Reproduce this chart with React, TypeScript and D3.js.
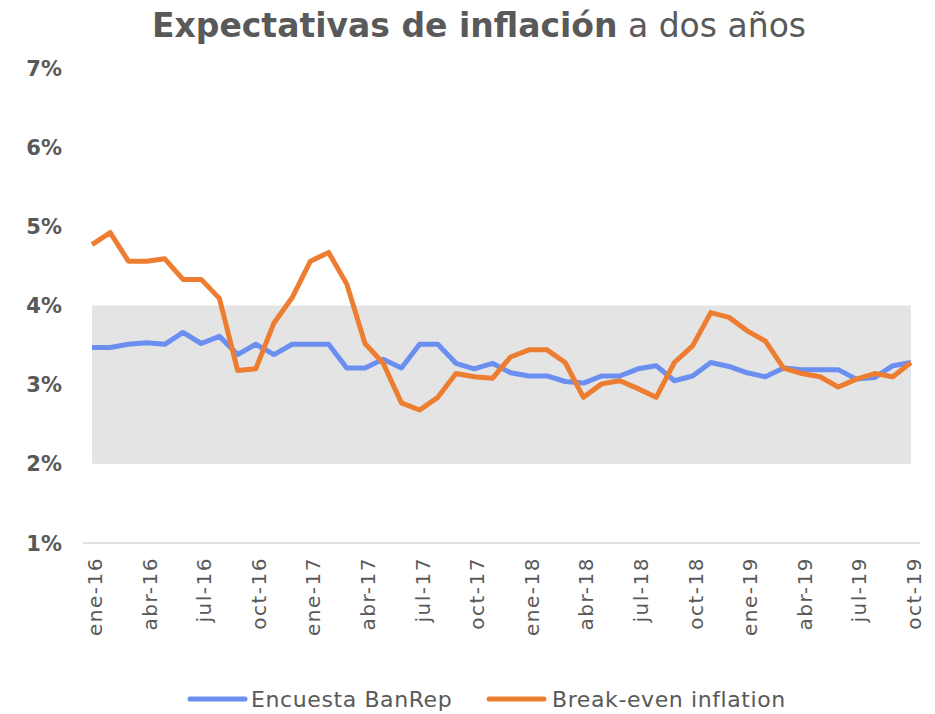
import React from 'react'
import * as d3 from 'd3'

const years = ['16', '17', '18', '19']
const months = ['ene', 'feb', 'mar', 'abr', 'may', 'jun', 'jul', 'ago', 'sep', 'oct', 'nov', 'dic']
const categories: string[] = years.flatMap(y => months.map(m => `${m}-${y}`)).slice(0, 46)

const encuesta = [
  3.47, 3.47, 3.51, 3.53, 3.51, 3.66, 3.52, 3.61, 3.38, 3.51, 3.38, 3.51,
  3.51, 3.51, 3.21, 3.21, 3.32, 3.21, 3.51, 3.51, 3.27, 3.20, 3.27, 3.15,
  3.11, 3.11, 3.04, 3.02, 3.11, 3.11, 3.20, 3.24, 3.05, 3.11, 3.28, 3.23,
  3.15, 3.10, 3.21, 3.19, 3.19, 3.19, 3.07, 3.09, 3.24, 3.28,
]
const breakeven = [
  4.77, 4.92, 4.56, 4.56, 4.59, 4.33, 4.33, 4.09, 3.18, 3.20, 3.78, 4.10,
  4.56, 4.67, 4.27, 3.52, 3.27, 2.77, 2.68, 2.84, 3.14, 3.10, 3.08, 3.35,
  3.44, 3.44, 3.28, 2.84, 3.01, 3.05, 2.95, 2.84, 3.28, 3.49, 3.91, 3.85,
  3.68, 3.55, 3.21, 3.14, 3.10, 2.97, 3.07, 3.14, 3.10, 3.28,
]
const yTicks = [1, 2, 3, 4, 5, 6, 7]
const band = [2, 4]

const W = 935
const H = 714
const font = '"DejaVu Sans", sans-serif'
const grey = '#595959'
const blue = '#6b8ff0'
const orange = '#ed7d31'

export default function App() {
  const x = d3.scalePoint<string>().domain(categories).range([92, 911])
  const y = d3.scaleLinear().domain([1, 7]).range([543, 68])

  const line = d3.line<number>()
    .x((d, i) => x(categories[i]) as number)
    .y(d => y(d))

  const step = x.step()
  const labelCats = categories.filter((c, i) => i % 3 === 0)

  return (
    <div style={{ position: 'absolute', left: 0, top: 0 }}>
      <svg width={W} height={H} style={{ display: 'block', background: '#fff' }} fontFamily={font}>
        <text x={479} y={37} textAnchor="middle" fontSize={33} fill={grey}>
          <tspan fontWeight="bold">Expectativas de inflación</tspan>
          <tspan> a dos años</tspan>
        </text>

        <rect
          x={x(categories[0])}
          width={(x(categories[categories.length - 1]) as number) - (x(categories[0]) as number)}
          y={y(band[1])}
          height={y(band[0]) - y(band[1])}
          fill="#e4e4e4"
        />

        {yTicks.map(t => (
          <text key={t} x={62} y={y(t)} dy="0.36em" textAnchor="end" fontSize={21}
            fontWeight="bold" fill={grey}>{t}%</text>
        ))}

        <line x1={92 - step / 2} x2={911 + step / 2} y1={y(1)} y2={y(1)} stroke="#d9d9d9" strokeWidth={1.5} />

        {labelCats.map(c => (
          <text key={c} transform={`translate(${(x(c) as number) + 10},${y(1) + 14}) rotate(-90)`}
            textAnchor="end" fontSize={20} letterSpacing={1.5} fill={grey}>{c}</text>
        ))}

        <path d={line(encuesta) || ''} fill="none" stroke={blue} strokeWidth={5} strokeLinejoin="round" />
        <path d={line(breakeven) || ''} fill="none" stroke={orange} strokeWidth={5} strokeLinejoin="round" />

        <g transform="translate(190,699)">
          <line x1={0} x2={55} y1={0} y2={0} stroke={blue} strokeWidth={5} strokeLinecap="round" />
          <text x={61} y={0} dy="0.36em" fontSize={22} letterSpacing={0.6} fill={grey}>Encuesta BanRep</text>
        </g>
        <g transform="translate(489,699)">
          <line x1={0} x2={55} y1={0} y2={0} stroke={orange} strokeWidth={5} strokeLinecap="round" />
          <text x={63} y={0} dy="0.36em" fontSize={22} letterSpacing={0.6} fill={grey}>Break-even inflation</text>
        </g>
      </svg>
    </div>
  )
}
